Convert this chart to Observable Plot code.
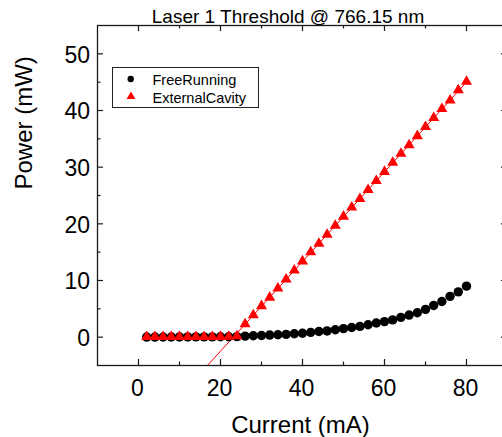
<!DOCTYPE html>
<html>
<head>
<meta charset="utf-8">
<script src="https://cdn.jsdelivr.net/npm/d3@7"></script>
<script src="https://cdn.jsdelivr.net/npm/@observablehq/plot@0.6"></script>
<style>
  html, body { margin: 0; padding: 0; background: #fff; overflow: hidden; }
  #chart { position: relative; width: 502px; height: 437px; }
</style>
</head>
<body>
<div id="chart"></div>
<script>
const titleText = "Laser 1 Threshold @ 766.15 nm";
const xLabel = "Current (mA)";
const yLabel = "Power (mW)";
const seriesNames = ["FreeRunning", "ExternalCavity"];

const current = [2,4,6,8,10,12,14,16,18,20,22,24,26,28,30,32,34,36,38,40,42,44,46,48,50,52,54,56,58,60,62,64,66,68,70,72,74,76,78,80];
const freeRunning = [0.02,0.02,0.03,0.03,0.04,0.04,0.05,0.05,0.06,0.07,0.08,0.1,0.18,0.25,0.3,0.37,0.43,0.5,0.6,0.7,0.85,1.0,1.1,1.3,1.5,1.7,1.9,2.2,2.5,2.75,3.05,3.5,3.9,4.3,4.9,5.6,6.3,7.2,8.0,9.0];
const externalCavity = [0.05,0.05,0.05,0.05,0.06,0.06,0.06,0.07,0.07,0.08,0.1,0.2,2.3,3.9,5.5,7.0,8.6,10.2,11.8,13.4,15.0,16.5,18.1,19.7,21.3,22.9,24.4,26.0,27.6,29.2,30.8,32.4,33.9,35.5,37.1,38.7,40.3,41.8,43.6,45.1];

// linear fit line of the external-cavity slope (threshold crossing)
const fitCurrent = [16.8, 80];
const fitPower = [-5, 45.0];

const xMajor = [0, 20, 40, 60, 80];
const xMinor = [10, 30, 50, 70];
const yMajor = [0, 10, 20, 30, 40, 50];
const yMinor = [5, 15, 25, 35, 45];

const free = current.map((c, i) => ({x: c, y: freeRunning[i]}));
const ext = current.map((c, i) => ({x: c, y: externalCavity[i]}));
const fit = fitCurrent.map((c, i) => ({x: c, y: fitPower[i]}));

const W = 502, H = 437;
const mL = 97, mR = -5, mT = 25, mB = 72;
const frameW = W - mR - mL, frameH = H - mB - mT;
const major = 6, minor = 3.5;
const font = "'Liberation Sans', Arial, Helvetica, sans-serif";
const axisColor = "#1a1a1a";

const plot = Plot.plot({
  width: W, height: H,
  marginLeft: mL, marginRight: mR, marginTop: mT, marginBottom: mB,
  style: {fontFamily: font, background: "white", color: "black"},
  x: {domain: [-10, 90], axis: null},
  y: {domain: [-5, 55], axis: null},
  marks: [
    Plot.line(fit, {x: "x", y: "y", stroke: "red", strokeWidth: 1}),
    Plot.dot(free, {x: "x", y: "y", r: 4.7, fill: "black", stroke: "none"}),
    Plot.dot(ext, {x: "x", y: "y", symbol: "triangle", r: 4.1, fill: "red", stroke: "none"}),
    Plot.frame({stroke: axisColor, strokeWidth: 1.3}),
    // bottom ticks (inward)
    Plot.tickX(xMajor, {x: d => d, insetTop: frameH - major, stroke: axisColor, strokeWidth: 1.2}),
    Plot.tickX(xMinor, {x: d => d, insetTop: frameH - minor, stroke: axisColor, strokeWidth: 1.2}),
    // top ticks (inward)
    Plot.tickX(xMajor, {x: d => d, insetBottom: frameH - major, stroke: axisColor, strokeWidth: 1.2}),
    Plot.tickX(xMinor, {x: d => d, insetBottom: frameH - minor, stroke: axisColor, strokeWidth: 1.2}),
    // left ticks
    Plot.tickY(yMajor, {y: d => d, insetRight: frameW - major, stroke: axisColor, strokeWidth: 1.2}),
    Plot.tickY(yMinor, {y: d => d, insetRight: frameW - minor, stroke: axisColor, strokeWidth: 1.2}),
    // right ticks
    Plot.tickY(yMajor, {y: d => d, insetLeft: frameW - major, stroke: axisColor, strokeWidth: 1.2}),
    Plot.tickY(yMinor, {y: d => d, insetLeft: frameW - minor, stroke: axisColor, strokeWidth: 1.2}),
    // tick labels
    Plot.text(xMajor, {x: d => d, text: d => String(d), frameAnchor: "bottom", lineAnchor: "bottom", dy: 30, dx: -1, fontSize: 23, fill: "black"}),
    Plot.text(yMajor, {y: d => d, text: d => String(d), frameAnchor: "left", textAnchor: "end", dx: -7.5, dy: 1.5, fontSize: 23, fill: "black"}),
    // axis labels
    Plot.text([xLabel], {text: d => d, frameAnchor: "bottom", lineAnchor: "bottom", dy: 67, dx: -2, fontSize: 24, fill: "black"}),
    Plot.text([yLabel], {text: d => d, frameAnchor: "left", rotate: -90, dx: -73, dy: -6, fontSize: 24, fill: "black"}),
    // title
    Plot.text([titleText], {text: d => d, frameAnchor: "top", lineAnchor: "bottom", dy: -2.5, dx: -14.5, fontSize: 19, fill: "black"})
  ]
});

// legend
const svg = d3.select(plot);
const lg = svg.append("g").attr("font-family", font).attr("font-size", 14.5).attr("text-anchor", "start");
lg.append("rect").attr("x", 112.5).attr("y", 67.5).attr("width", 146).attr("height", 40)
  .attr("fill", "white").attr("stroke", "#222").attr("stroke-width", 1);
lg.append("circle").attr("cx", 130.7).attr("cy", 79).attr("r", 3.2).attr("fill", "black");
lg.append("path").attr("d", d3.symbol(d3.symbolTriangle, 34)()).attr("transform", "translate(131,96.5)").attr("fill", "red");
lg.append("text").attr("x", 152.5).attr("y", 85).attr("text-anchor", "start").text(seriesNames[0]);
lg.append("text").attr("x", 152.5).attr("y", 102.7).attr("text-anchor", "start").text(seriesNames[1]);

document.getElementById("chart").appendChild(plot);
</script>
</body>
</html>
